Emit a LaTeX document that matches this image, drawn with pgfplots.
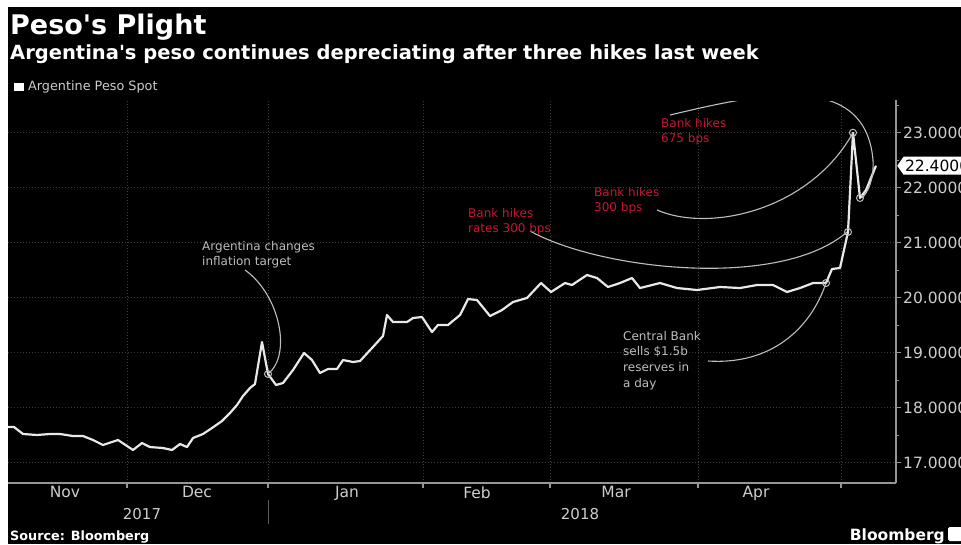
\documentclass[border=0pt]{standalone}
\usepackage{fontspec}
\setmainfont{DejaVu Sans}
\usepackage{pgfplots}
\pgfplotsset{compat=1.18}
\usetikzlibrary{shapes.symbols}
\definecolor{bbred}{RGB}{200,22,50}
\definecolor{gridc}{RGB}{60,60,60}
\definecolor{axc}{RGB}{150,150,150}
\definecolor{tickc}{RGB}{205,205,205}
\definecolor{annc}{RGB}{190,190,190}
\definecolor{linec}{RGB}{232,232,232}
\definecolor{sepc}{RGB}{90,90,90}
\newcommand{\ann}[4]{\node[anchor=base west, inner sep=0pt, text=#3, font=\fontsize{12}{14}\selectfont] at (#1,#2) {#4};}
\begin{document}
\begin{tikzpicture}[x=1pt,y=1pt]
\useasboundingbox (0,0) rectangle (961,544);
\clip (0,0) rectangle (961,544);
\fill[white] (0,0) rectangle (961,544);
\fill[black] (8,0) rectangle (961,537);
% titles
\node[anchor=base west, inner sep=0pt, text=white, font=\fontsize{27}{30}\selectfont\bfseries] at (10,509) {Peso\textquotesingle s Plight};
\node[anchor=base west, inner sep=0pt, text=white, font=\fontsize{19.5}{22}\selectfont\bfseries] at (10,484) {Argentina\textquotesingle s peso continues depreciating after three hikes last week};
\fill[white] (14,453) rectangle (24,461);
\node[anchor=base west, inner sep=0pt, text=tickc, font=\fontsize{12.8}{14}\selectfont] at (28,453) {Argentine Peso Spot};
\begin{axis}[
  at={(8pt,61pt)}, anchor=south west, scale only axis,
  width=888pt, height=383pt,
  xmin=8, xmax=896, ymin=16.631, ymax=23.595,
  clip mode=individual,
  axis x line*=bottom, axis y line*=right,
  axis line style={axc, line width=1.6pt},
  xtick={127,268,423,550,698,841}, xticklabels={},
  extra x ticks={65,197,347,477,616,756},
  extra x tick labels={Nov,Dec,Jan,Feb,Mar,Apr},
  extra x tick style={grid=none, major tick length=0pt},
  ytick={17,18,19,20,21,22,23},
  minor ytick={17.5,18.5,19.5,20.5,21.5,22.5,23.5},
  xmajorgrids, ymajorgrids,
  major grid style={gridc, dash pattern=on 1pt off 2pt, line width=0.8pt},
  tick align=outside, major tick length=5pt, minor tick length=3pt,
  tick style={axc, line width=1.2pt},
  /pgf/number format/assume math mode=true,
  yticklabel style={font=\fontsize{15.5}{17}\selectfont, text=tickc, anchor=west, inner sep=0pt, xshift=2pt,
    /pgf/number format/fixed, /pgf/number format/fixed zerofill, /pgf/number format/precision=4},
  xticklabel style={font=\fontsize{15.5}{17}\selectfont, text=tickc},
]
\addplot[linec, line width=2.2pt, line join=round] coordinates {
(8,17.649) (14,17.649) (23,17.522) (37,17.504) (50,17.522) (60,17.522) (73,17.485) (83,17.485)
(93,17.413) (103,17.322) (118,17.413) (127,17.304) (133,17.231) (142,17.358) (150,17.285)
(163,17.267) (172,17.231) (180,17.340) (187,17.285) (193,17.449) (203,17.522) (212,17.631)
(222,17.758) (230,17.904) (237,18.049) (243,18.213) (250,18.358) (255,18.431) (262,19.195)
(268,18.613) (276,18.413) (283,18.449) (293,18.685) (304,18.995) (312,18.867) (320,18.631)
(328,18.704) (337,18.704) (343,18.867) (353,18.831) (360,18.849) (372,19.085) (383,19.304)
(387,19.685) (393,19.558) (407,19.558) (413,19.631) (422,19.649) (432,19.376) (438,19.504)
(448,19.504) (460,19.685) (468,19.976) (477,19.958) (490,19.667) (502,19.776) (513,19.922)
(527,19.995) (541,20.267) (551,20.104) (565,20.267) (572,20.231) (587,20.413) (597,20.358)
(608,20.195) (620,20.267) (632,20.358) (640,20.176) (660,20.267) (677,20.176) (697,20.140)
(720,20.195) (740,20.176) (757,20.231) (773,20.231) (787,20.104) (800,20.176) (813,20.267)
(826,20.267) (832,20.522) (840,20.540) (848,21.195) (853,23.000) (860,21.813) (866,21.958)
(876,22.400)
};
\addplot[only marks, mark=o, mark size=3.5pt, mark options={annc, line width=1pt}] coordinates {
(268,18.613) (826,20.267) (848,21.195) (853,23.000) (860,21.813)};
% annotation leader curves
\draw[annc, line width=1.1pt] (axis cs:245,20.504) .. controls (axis cs:280,20.049) and (axis cs:292,18.958) .. (axis cs:268,18.613);
\draw[annc, line width=1.1pt] (axis cs:530,21.213) .. controls (axis cs:600,20.504) and (axis cs:780,20.140) .. (axis cs:847,21.195);
\draw[annc, line width=1.1pt] (axis cs:657,21.595) .. controls (axis cs:710,21.176) and (axis cs:810,21.595) .. (axis cs:853,23.0);
\draw[annc, line width=1.1pt] (axis cs:708,18.849) .. controls (axis cs:770,18.776) and (axis cs:810,19.413) .. (axis cs:826,20.267);
\begin{scope}
\clip (axis cs:8,16.631) rectangle (axis cs:896,23.567);
\draw[annc, line width=1.1pt] (axis cs:670,23.322) .. controls (axis cs:755,23.685) and (axis cs:865,24.176) .. (axis cs:873,22.504)
  .. controls (axis cs:874,22.14) and (axis cs:868,21.922) .. (axis cs:862,21.813);
\end{scope}
\coordinate (last) at (axis cs:896,22.4);
\end{axis}
% last value tag
\node[signal, signal to=west, signal pointer angle=110, fill=white, anchor=west, inner sep=1.5pt, minimum height=18pt,
  font=\fontsize{15.5}{17}\selectfont, text=black] at ([xshift=1pt]last) {22.4000};
% annotations text
\ann{661}{416}{bbred}{Bank hikes}
\ann{661}{401}{bbred}{675 bps}
\ann{594}{347}{bbred}{Bank hikes}
\ann{594}{332}{bbred}{300 bps}
\ann{468}{326}{bbred}{Bank hikes}
\ann{468}{311}{bbred}{rates 300 bps}
\ann{202}{293}{annc}{Argentina changes}
\ann{202}{278}{annc}{inflation target}
\ann{623}{204}{annc}{Central Bank}
\ann{623}{188.5}{annc}{sells \$1.5b}
\ann{623}{172.5}{annc}{reserves in}
\ann{623}{157}{annc}{a day}
% years
\draw[sepc, line width=1pt] (268,20) -- (268,44);
\node[anchor=base, inner sep=0pt, text=tickc, font=\fontsize{15}{17}\selectfont] at (142,25) {2017};
\node[anchor=base, inner sep=0pt, text=tickc, font=\fontsize{15}{17}\selectfont] at (580,25) {2018};
% footer
\node[anchor=base west, inner sep=0pt, text=white, font=\fontsize{12.8}{14}\selectfont\bfseries] at (10,4) {Source: Bloomberg};
\node[anchor=base east, inner sep=0pt, text=white, font=\fontsize{15.5}{17}\selectfont\bfseries] at (945,4) {Bloomberg};
\fill[white, rounded corners=1.5pt] (948,3) rectangle (962,17);
\end{tikzpicture}
\end{document}
